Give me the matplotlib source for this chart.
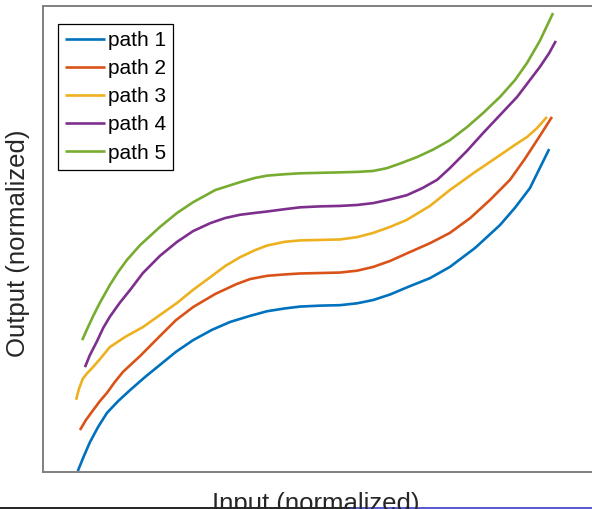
import matplotlib.pyplot as plt
from matplotlib.lines import Line2D

plt.rcParams["font.family"] = ["Liberation Sans", "DejaVu Sans"]

# values, normalized to the axes box (0..1)
path1_x = [0.063, 0.074, 0.085, 0.100, 0.116, 0.136, 0.158, 0.185, 0.212, 0.241,
           0.272, 0.306, 0.339, 0.375, 0.406, 0.438, 0.466, 0.502, 0.538, 0.569,
           0.598, 0.629, 0.659, 0.701, 0.737, 0.783, 0.828, 0.855, 0.882, 0.917]
path1_y = [0.002, 0.034, 0.064, 0.097, 0.127, 0.152, 0.176, 0.204, 0.230, 0.258,
           0.283, 0.305, 0.322, 0.335, 0.345, 0.351, 0.355, 0.357, 0.358, 0.362,
           0.369, 0.381, 0.396, 0.416, 0.440, 0.481, 0.530, 0.567, 0.609, 0.693]

path2_x = [0.067, 0.078, 0.091, 0.103, 0.116, 0.130, 0.145, 0.176, 0.212, 0.241,
           0.272, 0.312, 0.350, 0.375, 0.406, 0.438, 0.466, 0.502, 0.538, 0.569,
           0.598, 0.629, 0.659, 0.701, 0.737, 0.774, 0.810, 0.846, 0.873, 0.900, 0.922]
path2_y = [0.090, 0.112, 0.133, 0.152, 0.170, 0.193, 0.215, 0.249, 0.292, 0.326,
           0.354, 0.382, 0.403, 0.414, 0.421, 0.424, 0.426, 0.427, 0.428, 0.432,
           0.440, 0.453, 0.469, 0.491, 0.513, 0.545, 0.584, 0.627, 0.672, 0.721, 0.762]

path3_x = [0.060, 0.065, 0.072, 0.080, 0.089, 0.103, 0.121, 0.149, 0.181, 0.212,
           0.243, 0.272, 0.303, 0.330, 0.357, 0.384, 0.406, 0.438, 0.466, 0.502,
           0.538, 0.569, 0.598, 0.629, 0.659, 0.701, 0.737, 0.783, 0.828, 0.855,
           0.877, 0.895, 0.913]
path3_y = [0.155, 0.178, 0.200, 0.212, 0.223, 0.242, 0.268, 0.290, 0.311, 0.337,
           0.363, 0.391, 0.418, 0.442, 0.461, 0.476, 0.486, 0.494, 0.497, 0.498,
           0.499, 0.504, 0.513, 0.526, 0.541, 0.571, 0.605, 0.644, 0.680, 0.702,
           0.719, 0.738, 0.762]

path4_x = [0.076, 0.085, 0.098, 0.109, 0.121, 0.139, 0.158, 0.181, 0.212, 0.243,
           0.272, 0.303, 0.330, 0.357, 0.384, 0.406, 0.438, 0.466, 0.502, 0.538,
           0.569, 0.598, 0.629, 0.659, 0.687, 0.714, 0.737, 0.768, 0.797, 0.828,
           0.859, 0.882, 0.900, 0.917, 0.929]
path4_y = [0.225, 0.251, 0.281, 0.309, 0.333, 0.363, 0.391, 0.427, 0.464, 0.494,
           0.517, 0.534, 0.545, 0.552, 0.556, 0.559, 0.564, 0.568, 0.570, 0.571,
           0.573, 0.577, 0.585, 0.594, 0.609, 0.627, 0.652, 0.689, 0.727, 0.766,
           0.805, 0.841, 0.869, 0.899, 0.925]

path5_x = [0.071, 0.080, 0.091, 0.103, 0.121, 0.136, 0.152, 0.176, 0.212, 0.243,
           0.272, 0.312, 0.357, 0.384, 0.406, 0.438, 0.466, 0.502, 0.538, 0.569,
           0.598, 0.623, 0.647, 0.678, 0.707, 0.737, 0.768, 0.797, 0.828, 0.855,
           0.877, 0.900, 0.924]
path5_y = [0.283, 0.307, 0.335, 0.363, 0.401, 0.429, 0.455, 0.487, 0.526, 0.556,
           0.579, 0.605, 0.622, 0.631, 0.636, 0.639, 0.641, 0.642, 0.643, 0.644,
           0.646, 0.652, 0.662, 0.676, 0.692, 0.712, 0.740, 0.770, 0.805, 0.841,
           0.878, 0.925, 0.985]

labels = ["path 1", "path 2", "path 3", "path 4", "path 5"]
colors = ["#0072BD", "#D95319", "#EDB120", "#7E2F8E", "#77AC30"]
series = [
    (path1_x, path1_y),
    (path2_x, path2_y),
    (path3_x, path3_y),
    (path4_x, path4_y),
    (path5_x, path5_y),
]

W, H = 592, 509
fig = plt.figure(figsize=(W / 100, H / 100), dpi=100)
# axes box runs past the right edge of the image, as in the reference crop
ax = fig.add_axes([43 / W, (H - 472) / H, 552 / W, 466 / H])

for (xs, ys), lab, col in zip(series, labels, colors):
    ax.plot(xs, ys, color=col, linewidth=1.9, label=lab,
            solid_capstyle="butt", solid_joinstyle="round")

ax.set_xlim(0, 1)
ax.set_ylim(0, 1)
ax.set_xticks([])
ax.set_yticks([])
for sp in ax.spines.values():
    sp.set_color("#808080")
    sp.set_linewidth(1.4)

leg = ax.legend(
    loc="upper left",
    bbox_to_anchor=(0.027, 0.962),
    borderaxespad=0,
    fontsize=15,
    handlelength=1.9,
    handletextpad=0.15,
    borderpad=0.35,
    labelspacing=0.44,
    fancybox=False,
    framealpha=1,
    edgecolor="black",
)
leg.get_frame().set_linewidth(0.9)

fig.text(18 / W, 1 - 243 / H, "Output (normalized)", fontsize=18.5, color="#262626",
         rotation=90, ha="center", va="center")
# the reference crop cuts the x label at the bottom edge
fig.text(316 / W, -2 / H, "Input (normalized)", fontsize=18.5, color="#262626",
         ha="center", va="baseline")

# thin lines along the bottom edge of the screenshot
fig.add_artist(Line2D([0, 351 / W], [1.2 / H, 1.2 / H], color="black", linewidth=1.2))
fig.add_artist(Line2D([351 / W, 1], [1.2 / H, 1.2 / H], color="#3a3ac8", linewidth=1.2))

fig.savefig("out.png", dpi=100)
